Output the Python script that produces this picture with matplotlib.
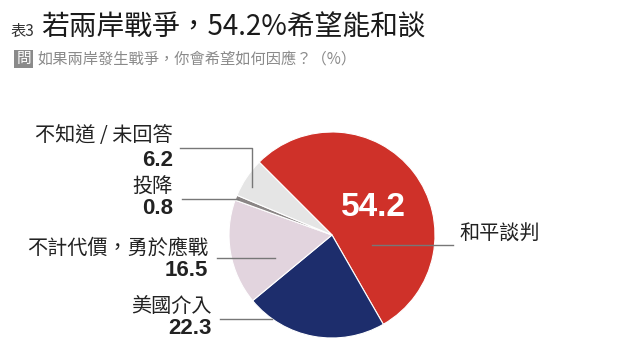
import matplotlib
matplotlib.use("Agg")
import matplotlib.pyplot as plt

plt.rcParams['font.family'] = ['Noto Sans CJK TC', 'DejaVu Sans']

categories = ["和平談判", "美國介入", "不計代價，勇於應戰", "投降", "不知道 / 未回答"]
values = [54.2, 22.3, 16.5, 0.8, 6.2]
colors = ["#cf3129", "#1d2d6c", "#e2d4de", "#8a8585", "#e5e5e5"]

title_tag = "表3"
title = "若兩岸戰爭，54.2%希望能和談"
q_tag = "問"
question = "如果兩岸發生戰爭，你會希望如何因應？（%）"

W, H = 640, 353
fig = plt.figure(figsize=(W/100, H/100), dpi=100)
fig.patch.set_facecolor("white")

# pie axes: center (332,235) px, radius 103 px
cx, cy, r = 332, 235, 103
ax = fig.add_axes([(cx - r)/W, (H - cy - r)/H, 2*r/W, 2*r/H])
ax.pie(values, colors=colors, startangle=135, counterclock=False, radius=1,
       wedgeprops=dict(edgecolor="white", linewidth=0.8))
ax.set_xlim(-1, 1); ax.set_ylim(-1, 1)
ax.set_aspect("auto")
ax.axis("off")

# overlay in pixel coords
ov = fig.add_axes([0, 0, 1, 1])
ov.set_xlim(0, W); ov.set_ylim(H, 0)
ov.axis("off")
ov.patch.set_alpha(0)

# titles
ov.text(10, 31, title_tag, fontsize=11, color="#333333", va="center", ha="left")
ov.text(41, 28, title, fontsize=20, color="#1a1a1a", va="center", ha="left")
ov.text(23.5, 59, q_tag, fontsize=10.5, color="white", va="center", ha="center",
        bbox=dict(boxstyle="square,pad=0.12", facecolor="#8a8a8a", edgecolor="none"))
ov.text(38, 59, question, fontsize=11, color="#8a8a8a", va="center", ha="left")

numfont = ['Liberation Sans', 'DejaVu Sans']
lc = "#777777"
lw = 1.0
lfs = 14.5
nfs = 16
tc = "#222222"

# 不知道 / 未回答
ov.text(173, 136, categories[4], fontsize=lfs, color=tc, ha="right", va="center")
ov.text(173, 160, f"{values[4]}", fontsize=nfs, fontweight="bold", family=numfont,
        color=tc, ha="right", va="center")
ov.plot([180, 252, 252], [148, 148, 187], color=lc, lw=lw)

# 投降
ov.text(173, 187, categories[3], fontsize=lfs, color=tc, ha="right", va="center")
ov.text(173, 209, f"{values[3]}", fontsize=nfs, fontweight="bold", family=numfont,
        color=tc, ha="right", va="center")
ov.plot([182, 238], [199, 199], color=lc, lw=lw)

# 不計代價，勇於應戰
ov.text(208, 248, categories[2], fontsize=lfs, color=tc, ha="right", va="center")
ov.text(208, 270, f"{values[2]}", fontsize=nfs, fontweight="bold", family=numfont,
        color=tc, ha="right", va="center")
ov.plot([217, 275], [258, 258], color=lc, lw=lw)

# 美國介入
ov.text(212, 307, categories[1], fontsize=lfs, color=tc, ha="right", va="center")
ov.text(212, 329, f"{values[1]}", fontsize=nfs, fontweight="bold", family=numfont,
        color=tc, ha="right", va="center")
ov.plot([220, 272], [319, 319], color=lc, lw=lw)

# 和平談判
ov.text(459, 234, categories[0], fontsize=lfs, color=tc, ha="left", va="center")
ov.plot([372, 453], [245, 245], color=lc, lw=lw)
ov.text(373, 208, f"{values[0]}", fontsize=24, fontweight="bold", family=numfont,
        color="white", ha="center", va="center")

fig.savefig("out.png", dpi=100, facecolor="white")
